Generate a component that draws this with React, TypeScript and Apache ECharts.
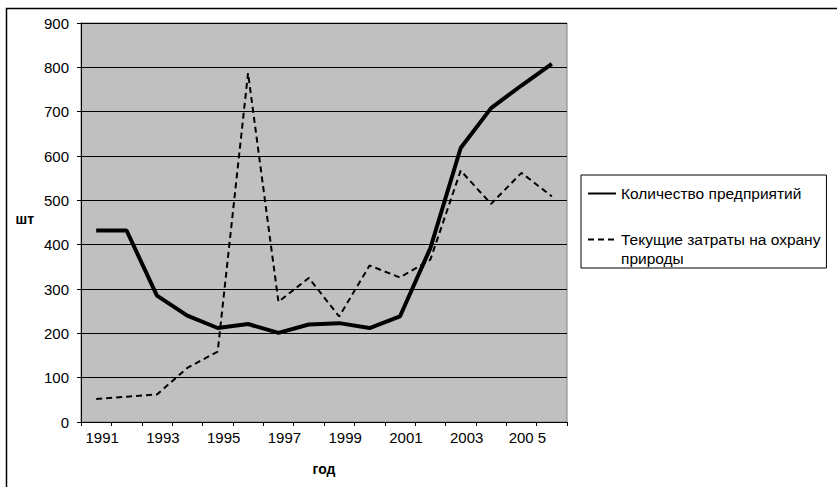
import React, { useEffect, useRef } from 'react';
import * as echarts from 'echarts';

const years = ['1991', '1992', '1993', '1994', '1995', '1996', '1997', '1998', '1999', '2000', '2001', '2002', '2003', '2004', '2005', '2006'];
const enterprises = [432, 432, 285, 240, 212, 221, 201, 220, 223, 212, 238, 392, 618, 708, 759, 808];
const envCosts = [52, 57, 62, 122, 159, 787, 271, 325, 238, 353, 326, 366, 567, 492, 562, 509];
const seriesNames = ['Количество предприятий', 'Текущие затраты на охрану природы'];
const legendLines: Record<string, string[]> = {
  'Текущие затраты на охрану природы': ['Текущие затраты на охрану', 'природы'],
};
const yMin = 0;
const yMax = 900;
const yStep = 100;

const FONT = '"Liberation Sans", Arial, sans-serif';

export default function App() {
  const ref = useRef<HTMLDivElement>(null);
  useEffect(() => {
    if (!ref.current) return;
    const chart = echarts.init(ref.current, undefined, { renderer: 'svg' });
    chart.setOption({
      animation: false,
      backgroundColor: '#ffffff',
      textStyle: { fontFamily: FONT },
      graphic: [
        {
          type: 'rect',
          shape: { x: 6.5, y: 8.5, width: 900, height: 600 },
          style: { fill: 'none', stroke: '#000', lineWidth: 1.5 },
          silent: true,
          z: 100,
        },
      ],
      grid: {
        left: 81,
        right: 270,
        top: 23,
        bottom: 65,
        show: true,
        backgroundColor: '#c0c0c0',
        borderColor: '#808080',
        borderWidth: 1,
      },
      legend: {
        orient: 'vertical',
        left: 581,
        top: 175,
        itemWidth: 28,
        itemHeight: 14,
        itemGap: 8,
        padding: [9, 6, 0, 6],
        borderColor: '#000',
        borderWidth: 1,
        backgroundColor: '#ffffff',
        itemStyle: { opacity: 0 },
        formatter: (name: string) => {
          const lines = legendLines[name];
          if (!lines) return '{t|' + name + '}';
          return '{s| }\n' + lines.map((l) => '{t|' + l + '}').join('\n');
        },
        textStyle: {
          fontSize: 15.5,
          color: '#000',
          lineHeight: 19,
          fontFamily: FONT,
          rich: {
            t: { fontSize: 15.5, lineHeight: 19, color: '#000', fontFamily: FONT },
            s: { fontSize: 15.5, lineHeight: 19 },
          },
        },
        data: seriesNames,
      },
      xAxis: {
        type: 'category',
        data: years,
        boundaryGap: true,
        name: 'год',
        nameLocation: 'middle',
        nameGap: 40,
        nameTextStyle: { fontSize: 14, fontWeight: 'bold', color: '#000', fontFamily: FONT },
        axisLine: { show: true, lineStyle: { color: '#000', width: 1 } },
        axisTick: { show: true, interval: 0, length: 4, lineStyle: { color: '#000' } },
        axisLabel: {
          interval: 1,
          fontSize: 15,
          color: '#000',
          margin: 8,
          padding: [0, 0, 0, 12],
          fontFamily: FONT,
          formatter: (v: string) => (v === '2005' ? '200 5' : v),
        },
        splitLine: { show: false },
      },
      yAxis: {
        type: 'value',
        min: yMin,
        max: yMax,
        interval: yStep,
        name: 'шт',
        nameLocation: 'middle',
        nameRotate: 0,
        nameGap: 47,
        nameTextStyle: { fontSize: 14, fontWeight: 'bold', color: '#000', fontFamily: FONT, verticalAlign: 'bottom', padding: [0, 0, -3, 0] },
        axisLine: { show: true, lineStyle: { color: '#000', width: 1 } },
        axisTick: { show: true, length: 4, lineStyle: { color: '#000' } },
        axisLabel: { fontSize: 15, color: '#000', margin: 12, fontFamily: FONT },
        splitLine: { show: true, lineStyle: { color: '#000', width: 1 } },
      },
      series: [
        {
          name: seriesNames[0],
          type: 'line',
          data: enterprises,
          symbol: 'none',
          lineStyle: { color: '#000', width: 4, type: 'solid' },
          itemStyle: { color: '#000' },
        },
        {
          name: seriesNames[1],
          type: 'line',
          data: envCosts,
          symbol: 'none',
          lineStyle: { color: '#000', width: 2, type: [6, 4] },
          itemStyle: { color: '#000' },
        },
      ],
    });
    return () => chart.dispose();
  }, []);
  return (
    <div
      ref={ref}
      style={{ position: 'fixed', left: 0, top: 0, width: 837, height: 487 }}
    />
  );
}
